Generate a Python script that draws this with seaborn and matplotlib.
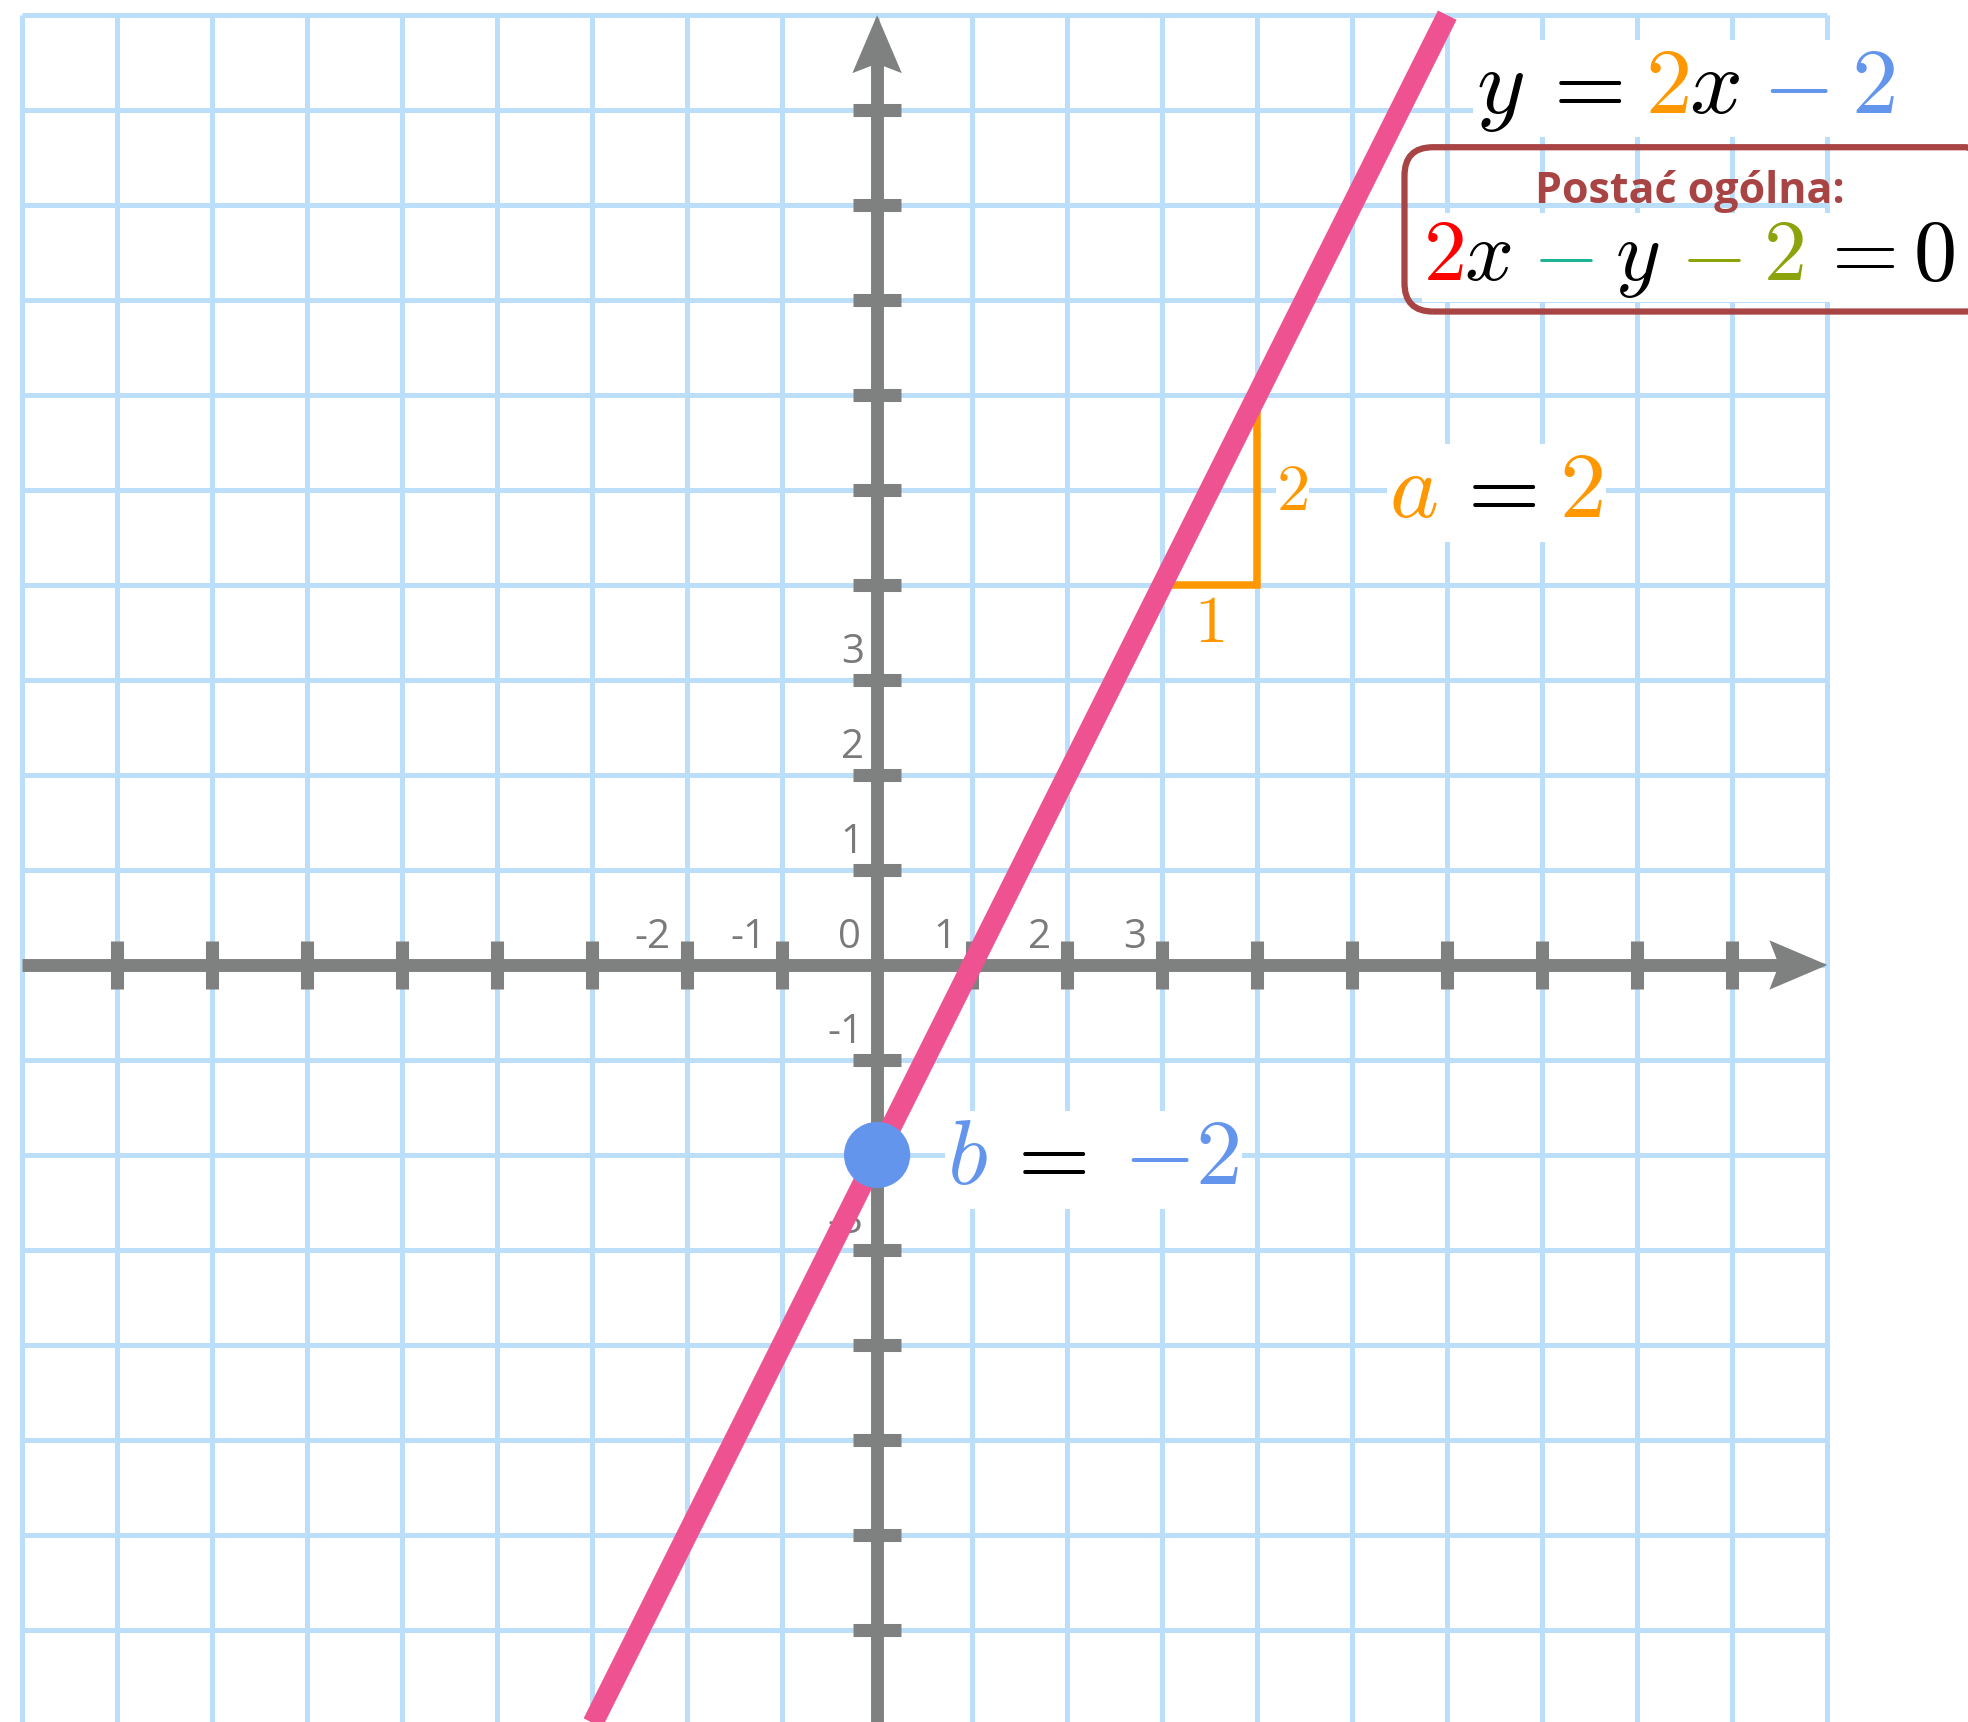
import matplotlib
matplotlib.use("Agg")
import matplotlib.pyplot as plt
import seaborn as sns
import numpy as np
from matplotlib.patches import Polygon, FancyBboxPatch
from matplotlib.offsetbox import TextArea, HPacker, AnnotationBbox

# ================= data =================
GRID_X = list(range(-9, 11))          # vertical grid lines
GRID_Y = list(range(-7, 11))          # horizontal grid lines
X_TICKS = [-8, -7, -6, -5, -4, -3, -2, -1, 1, 2, 3, 4, 5, 6, 7, 8, 9]
Y_TICKS = [-7, -6, -5, -4, -3, -2, -1, 1, 2, 3, 4, 5, 6, 7, 8, 9]
X_LABEL_POS = [-2, -1, 0, 1, 2, 3]
X_LABEL_TXT = ["-2", "-1", "0", "1", "2", "3"]
Y_LABEL_POS = [3, 2, 1, -1, -3]
Y_LABEL_TXT = ["3", "2", "1", "-1", "-3"]

LINE_X = [-3, 6]          # y = 2x - 2
LINE_Y = [-8, 10]
TRI_X = [3, 4, 4]         # slope triangle
TRI_Y = [4, 4, 6]
POINT_X = [0]             # intercept b
POINT_Y = [-2]

# ================= style =================
sns.set_theme(style="white")
plt.rcParams['font.family'] = ['Open Sans', 'DejaVu Sans']
plt.rcParams['mathtext.fontset'] = 'cm'

GRID_C = "#BBDEFB"
AXIS_C = "#7F8180"
PINK = "#EE5290"
BLUE = "#6495ED"
ORANGE = "#FF9800"
RED = "#FF0000"
TEAL = "#1DB394"
OLIVE = "#8CA30C"
DARKRED = "#A84444"
BLACK = "#000000"
LABEL_C = "#7A7A7A"

MATH_SIZE = 67

fig = plt.figure(figsize=(19.68, 17.22), dpi=100)
ax = fig.add_axes([0, 0, 1, 1])
ax.set_xlim(-9.23, 11.48)
ax.set_ylim(-7.97, 10.16)
ax.axis('off')

# siatka
ax.vlines(GRID_X, -9, GRID_Y[-1], color=GRID_C, lw=3.6, zorder=1)
ax.hlines(GRID_Y, GRID_X[0], GRID_X[-1], color=GRID_C, lw=3.6, zorder=1)

# osie ze strzałkami
ax_end = 10
ax.plot([GRID_X[0], ax_end - 0.5], [0, 0], color=AXIS_C, lw=9.3,
        solid_capstyle='butt', zorder=2)
ax.plot([0, 0], [-9, ax_end - 0.5], color=AXIS_C, lw=9.3,
        solid_capstyle='butt', zorder=2)
hl, hw, notch = 0.61, 0.26, 0.1
ax.add_patch(Polygon([[ax_end, 0], [ax_end - hl, hw], [ax_end - hl + notch, 0],
                      [ax_end - hl, -hw]], closed=True, color=AXIS_C, lw=0, zorder=2))
ax.add_patch(Polygon([[0, ax_end], [hw, ax_end - hl], [0, ax_end - hl + notch],
                      [-hw, ax_end - hl]], closed=True, color=AXIS_C, lw=0, zorder=2))

# znaczniki
ax.vlines(X_TICKS, -0.253, 0.253, color=AXIS_C, lw=9.4, zorder=2)
ax.hlines(Y_TICKS, -0.253, 0.253, color=AXIS_C, lw=9.4, zorder=2)

# etykiety osi
for p, t in zip(X_LABEL_POS, X_LABEL_TXT):
    ax.text(p - 0.17, 0.07, t, ha='right', va='bottom', fontsize=29,
            color=LABEL_C, zorder=2)
for p, t in zip(Y_LABEL_POS, Y_LABEL_TXT):
    ax.text(-0.14, p + 0.07, t, ha='right', va='bottom', fontsize=29,
            color=LABEL_C, zorder=2)

# trójkąt nachylenia
sns.lineplot(x=TRI_X, y=TRI_Y, ax=ax, color=ORANGE, linewidth=5.4,
             estimator=None, sort=False, solid_joinstyle='miter',
             solid_capstyle='butt', zorder=3)

# prosta
sns.lineplot(x=LINE_X, y=LINE_Y, ax=ax, color=PINK, linewidth=15,
             estimator=None, sort=False, solid_capstyle='butt', zorder=4)

# punkt b
sns.scatterplot(x=POINT_X, y=POINT_Y, ax=ax, color=BLUE, s=2270,
                edgecolor='none', zorder=5)


def math_row(parts, size=MATH_SIZE):
    boxes = [TextArea(txt, textprops=dict(color=c, fontsize=size)) for txt, c in parts]
    return HPacker(children=boxes, align="baseline", pad=0, sep=0)


def place(row, xy, align=(0, 0.5), pad=0.15):
    ab = AnnotationBbox(row, xy, xycoords='data', box_alignment=align,
                        frameon=True, pad=pad,
                        bboxprops=dict(facecolor='white', edgecolor='none'))
    ab.set_zorder(6)
    ax.add_artist(ab)


# odstępy tylko na początku fragmentów (końcowe są obcinane),
# {-} wyłącza automatyczne odstępy wokół minusa
EQ_SLOPE = [(r"$y$", BLACK), (r"$\,=$", BLACK), (r"$\;2$", ORANGE),
            (r"$x$", BLACK), (r"$\;{-}$", BLUE), (r"$\;2$", BLUE)]
EQ_GENERAL = [(r"$2$", RED), (r"$x$", BLACK), (r"$\;{-}$", TEAL),
              (r"$\;y$", BLACK), (r"$\;{-}$", OLIVE), (r"$\;2$", OLIVE),
              (r"$\,=0$", BLACK)]
EQ_A = [(r"$a$", ORANGE), (r"$\,=$", BLACK), (r"$\;2$", ORANGE)]
EQ_B = [(r"$b$", BLUE), (r"$\,=$", BLACK), (r"$\;\,{-}2$", BLUE)]

place(math_row(EQ_SLOPE), (6.30, 9.23))
place(math_row(EQ_A), (5.39, 4.97))
place(math_row(EQ_B), (0.74, -2.05))
place(math_row([(r"$2$", ORANGE)], 48), (4.37, 4.98), align=(0.5, 0.5), pad=0.05)
place(math_row([(r"$1$", ORANGE)], 48), (3.49, 3.59), align=(0.5, 0.5), pad=0.05)

# ramka postaci ogólnej
ax.add_patch(FancyBboxPatch((5.55, 6.88), 6.2, 1.73,
                            boxstyle="round,pad=0,rounding_size=0.3",
                            fill=False, ec=DARKRED, lw=4.5, zorder=6))
ax.text(8.55, 8.02, "Postać ogólna:", ha='center', va='baseline',
        color=DARKRED, fontsize=31, fontweight='bold', zorder=6)
place(math_row(EQ_GENERAL, 62), (5.75, 7.45), pad=0.1)

fig.savefig("out.png", dpi=100)
